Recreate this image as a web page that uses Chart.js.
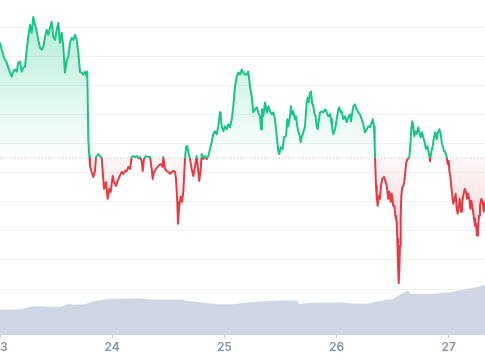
<!DOCTYPE html>
<html>
<head>
<meta charset="utf-8">
<script src="https://cdn.jsdelivr.net/npm/chart.js@4.4.1/dist/chart.umd.min.js"></script>
<style>
  html, body { margin: 0; padding: 0; background: #fff; overflow: hidden; width: 485px; height: 360px; }
  #wrap { position: absolute; left: -30px; top: 0; width: 515px; height: 360px; }
</style>
</head>
<body>
<div id="wrap"><canvas id="c"></canvas></div>
<script>
// Hours since the 23rd 00:00
const hours = [0,0.36,0.58,0.86,1.07,1.43,1.78,2.14,2.50,2.84,3.21,3.57,3.91,4.28,4.64,4.98,5.35,5.71,6.05,6.42,6.78,7.12,7.49,7.85,8.19,8.56,8.92,9.26,9.63,9.99,10.33,10.70,11.06,11.40,11.76,12.13,12.47,12.83,13.20,13.54,13.90,14.27,14.61,14.97,15.34,15.68,16.04,16.41,16.75,17.11,17.48,17.82,18.18,18.55,18.67,18.89,19.10,19.25,19.61,19.96,20.32,20.53,21.03,21.39,21.75,21.97,22.25,22.67,23.04,23.38,23.68,24.11,24.38,24.81,25.09,25.52,26.03,26.37,26.74,27.10,27.44,27.81,28.17,28.51,28.88,29.24,29.58,29.95,30.31,30.52,30.80,31.23,31.72,32.09,32.45,32.66,32.94,33.37,33.86,34.37,34.80,34.93,35.29,35.66,36.00,36.36,36.73,37.07,37.43,37.65,37.92,38.07,38.35,38.65,38.93,39.21,39.57,39.79,40.06,40.28,40.64,41.00,41.35,41.71,42.07,42.42,42.63,42.93,43.14,43.49,43.85,44.21,44.56,44.92,45.28,45.63,45.99,46.35,46.69,47.06,47.21,47.42,47.76,48.13,48.49,48.83,49.20,49.56,49.90,50.27,50.63,50.97,51.34,51.70,52.04,52.41,52.77,53.11,53.48,53.84,54.18,54.54,54.91,55.25,55.61,55.83,56.04,56.32,56.68,57.05,57.39,57.75,58.12,58.46,58.82,59.19,59.53,59.74,60.04,60.47,60.75,61.18,61.45,61.67,62.03,62.24,62.52,62.74,63.10,63.31,63.59,63.81,64.02,64.32,64.53,64.88,65.24,65.60,65.82,66.03,66.31,66.52,66.74,67.01,67.23,67.53,67.74,67.96,68.23,68.45,68.81,69.15,69.52,69.88,70.22,70.59,70.80,71.01,71.29,71.66,72.02,72.36,72.58,72.88,73.09,73.43,73.80,74.16,74.50,74.87,75.08,75.36,75.57,75.93,76.30,76.64,77.00,77.37,77.71,78.07,78.44,78.78,79.14,79.51,79.72,80.00,80.15,80.28,80.43,80.58,80.79,81.00,81.28,81.50,81.77,82.14,82.42,82.71,83.06,83.27,83.57,83.79,84.13,84.34,84.56,84.70,84.85,84.98,85.13,85.28,85.41,85.56,85.71,85.84,86.05,86.27,86.48,86.69,86.91,87.21,87.55,87.76,87.98,88.19,88.40,88.62,88.83,89.13,89.47,89.69,89.99,90.27,90.54,90.84,91.12,91.40,91.70,91.98,92.26,92.55,92.83,93.11,93.41,93.69,93.97,94.27,94.48,94.69,94.97,95.25,95.55,95.76,95.98,96.11,96.32,96.53,96.75,96.96,97.26,97.47,97.69,97.90,98.12,98.33,98.61,98.82,99.10,99.40,99.68,99.89,100.11,100.38,100.60,100.81,101.11,101.39,101.60,101.82,102.03,102.24,102.46,102.67,102.95,103.25,103.46,103.74];
// Price (arbitrary units)
const price = [277,270,267,262,260,257,252,247,243,248,250,248,257,258,248,252,253,270,283,295,287,303,295,288,280,272,270,273,283,290,285,292,298,283,280,290,297,277,287,273,247,260,263,277,282,280,285,280,267,248,247,245,248,243,248,180,163,153,147,142,148,162,165,163,161,147,130,137,120,130,127,143,137,133,137,142,147,145,148,148,152,150,162,163,162,163,161,162,158,148,160,163,162,162,150,140,147,150,153,155,152,162,150,148,147,145,147,148,147,140,117,95,113,122,117,127,160,172,173,167,160,150,143,152,163,147,138,150,165,160,163,160,163,170,177,185,188,185,193,207,203,193,188,193,190,195,192,200,213,233,243,247,245,250,247,245,245,248,233,223,207,210,212,207,203,190,210,203,217,207,213,208,205,207,200,183,168,165,172,170,182,183,200,193,203,213,205,208,200,203,193,188,185,177,182,187,193,217,222,217,227,228,217,213,207,202,193,190,200,207,208,207,210,207,203,205,200,193,185,190,200,210,212,207,208,200,203,197,202,205,198,207,213,215,210,207,205,200,195,187,190,193,192,197,200,193,173,153,133,122,113,123,120,133,140,142,138,133,120,127,117,125,113,113,103,100,97,80,53,35,47,73,103,123,132,133,137,147,157,160,162,173,190,198,193,183,188,185,192,187,182,187,182,177,170,173,167,158,167,173,182,187,180,187,190,185,177,173,168,167,162,155,158,148,143,133,123,115,120,125,110,105,112,120,107,115,123,130,127,120,125,120,110,118,110,100,93,95,83,90,103,113,120,117,107,117];
const basePrice = 161;

const volHours = [0,4.28,7.06,10.70,12.83,14.97,15.61,18.18,19.25,20.75,23.53,29.95,32.09,39.14,39.57,42.78,46.42,49.84,53.48,59.89,63.53,63.96,66.31,73.37,74.87,78.50,80.64,84.06,85.56,87.27,87.70,89.84,92.62,96.26,98.40,101.60,103.74];
const volume = [1.27,1.30,1.44,1.42,1.42,1.59,1.52,1.55,1.65,1.72,1.82,1.84,1.79,1.79,1.72,1.65,1.55,1.55,1.65,1.74,1.74,1.55,1.62,1.64,1.59,1.57,1.69,1.82,2.02,2.25,2.09,2.07,2.07,2.15,2.25,2.39,2.52];

const dayLabels = ['23','24','25','26','27'];
const gridValues = [29.25,58.5,87.75,117,146.25,175.5,204.75,234,263.25,292.5];

const GREEN = '#16c784', RED = '#ea3943';

function lineColor(c) {
  const chart = c.chart, area = chart.chartArea;
  if (!area) return GREEN;
  const yb = chart.scales.y.getPixelForValue(basePrice);
  const f = Math.min(Math.max((yb - area.top) / (area.bottom - area.top), 0), 1);
  const g = chart.ctx.createLinearGradient(0, area.top, 0, area.bottom);
  g.addColorStop(0, GREEN); g.addColorStop(f, GREEN);
  g.addColorStop(f, RED); g.addColorStop(1, RED);
  return g;
}
function fillSpec(c) {
  const chart = c.chart, area = chart.chartArea;
  if (!area) return {target: {value: basePrice}, above: 'rgba(22,199,132,0.15)', below: 'rgba(234,57,67,0.1)'};
  const y = chart.scales.y;
  const yb = y.getPixelForValue(basePrice);
  const yTop = y.getPixelForValue(305);
  const yLow = y.getPixelForValue(30);
  const gg = chart.ctx.createLinearGradient(0, yTop, 0, yb);
  gg.addColorStop(0, 'rgba(22,199,132,0.32)');
  gg.addColorStop(1, 'rgba(22,199,132,0.01)');
  const gr = chart.ctx.createLinearGradient(0, yb, 0, yLow);
  gr.addColorStop(0, 'rgba(234,57,67,0.04)');
  gr.addColorStop(1, 'rgba(234,57,67,0.3)');
  return {target: {value: basePrice}, above: gg, below: gr};
}

new Chart(document.getElementById('c'), {
  type: 'line',
  data: {
    datasets: [
      {
        data: hours.map((h, i) => ({x: h, y: price[i]})),
        yAxisID: 'y',
        borderColor: lineColor,
        borderWidth: 2,
        pointRadius: 0,
        tension: 0,
        borderJoinStyle: 'round',
        fill: fillSpec
      },
      {
        data: volHours.map((h, i) => ({x: h, y: volume[i]})),
        yAxisID: 'y2',
        borderWidth: 0,
        borderColor: 'rgba(0,0,0,0)',
        backgroundColor: '#d0d6e3',
        pointRadius: 0,
        tension: 0,
        fill: 'origin'
      },
      {
        data: [{x: 0, y: basePrice}, {x: 103.74, y: basePrice}],
        yAxisID: 'y',
        borderColor: '#c4c4c4',
        borderWidth: 1,
        borderDash: [1, 2],
        pointRadius: 0,
        fill: false
      }
    ]
  },
  options: {
    responsive: true,
    maintainAspectRatio: false,
    animation: false,
    events: [],
    layout: { padding: { left: 30, right: 0, top: 0, bottom: 3.6 } },
    plugins: { legend: { display: false }, tooltip: { enabled: false } },
    scales: {
      x: {
        type: 'linear',
        min: 0,
        max: 103.74,
        border: { display: false },
        grid: { drawOnChartArea: false, drawTicks: true, tickLength: 3, color: '#c9cfdb' },
        ticks: {
          stepSize: 24,
          includeBounds: false,
          padding: 2,
          color: '#8a91a4',
          font: { family: 'Inter', size: 12, weight: '600' },
          maxRotation: 0,
          callback: (v) => dayLabels[Math.round(v / 24)]
        }
      },
      y: {
        min: -17,
        max: 320,
        border: { display: false },
        grid: { color: '#f1f1f3', drawTicks: false, lineWidth: 1 },
        ticks: { display: false },
        afterBuildTicks: (s) => { s.ticks = gridValues.map(v => ({value: v})); }
      },
      y2: {
        display: false,
        min: 0,
        max: 16.85
      }
    }
  }
});
</script>
</body>
</html>
